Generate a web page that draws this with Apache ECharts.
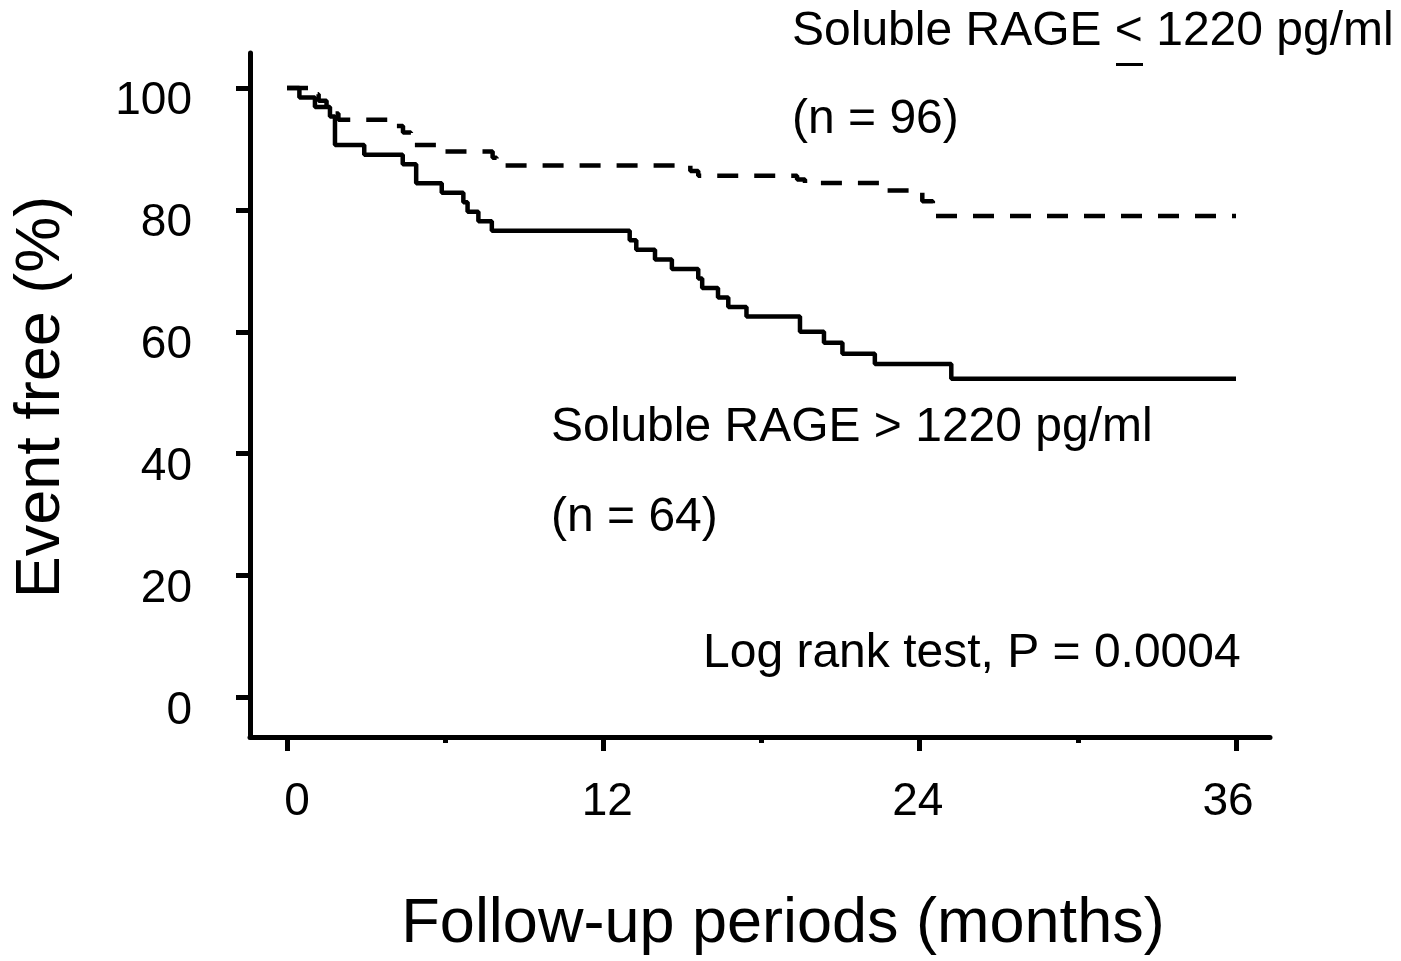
<!DOCTYPE html>
<html><head><meta charset="utf-8">
<script src="https://cdn.jsdelivr.net/npm/echarts@6/dist/echarts.min.js"></script>
<style>html,body{margin:0;padding:0;background:#fff}#c{width:1401px;height:961px}</style>
</head><body><div id="c"></div>
<script>
// Soluble RAGE <= 1220 pg/ml (n = 96) — dashed curve
const lowTime = [0, 0.9, 1.2, 1.5, 1.7, 1.95, 4.15, 4.4, 4.7, 4.85, 5.8, 7.8, 7.95, 15.3, 15.6, 19.35, 19.65, 22.7, 24.1, 24.5, 36];
const lowSurv = [100, 98.96, 97.92, 96.88, 95.83, 94.79, 93.75, 92.71, 91.67, 90.63, 89.58, 88.54, 87.3, 86.4, 85.6, 85.0, 84.4, 83.2, 81.4, 79.0, 79.0];
// Soluble RAGE > 1220 pg/ml (n = 64) — solid curve
const highTime = [0, 0.47, 1.06, 1.63, 1.82, 2.93, 4.39, 4.9, 5.87, 6.69, 6.85, 7.26, 7.77, 13.0, 13.25, 13.96, 14.6, 15.6, 15.75, 16.35, 16.74, 17.43, 19.46, 20.37, 21.07, 22.3, 25.2, 36];
const highSurv = [100, 98.44, 96.88, 95.31, 90.63, 89.06, 87.5, 84.38, 82.81, 81.25, 79.69, 78.13, 76.56, 75.0, 73.44, 71.88, 70.31, 68.75, 67.19, 65.63, 64.06, 62.5, 60.0, 58.2, 56.4, 54.7, 52.3, 52.3];
const yTickValues = [0, 20, 40, 60, 80, 100];
const xMajorTicks = [0, 12, 24, 36];
const xMinorTicks = [6, 18, 30];
const xTickLabels = [0, 12, 24, 36];

const FONT = '"Liberation Sans", Arial, Helvetica, sans-serif';
const BLACK = '#000';
const zip = (a, b) => a.map((v, i) => [v, b[i]]);

const chart = echarts.init(document.getElementById('c'), null, {renderer: 'canvas'});
const xMin = -1.4036, xMax = 37.29;
const txt = (text, x, y, size, extra) => Object.assign({
  type: 'text', x: x, y: y, silent: true,
  style: {text: text, fill: BLACK, fontSize: size, fontFamily: FONT,
    align: 'left', verticalAlign: 'middle', textAlign: 'left', textVerticalAlign: 'middle'}
}, extra || {});

chart.setOption({
  animation: false,
  backgroundColor: '#fff',
  grid: {left: 250, top: 53, right: 131, bottom: 224, containLabel: false},
  xAxis: [
    {type: 'value', position: 'bottom', min: xMin, max: xMax,
      axisLine: {show: true, onZero: false, lineStyle: {color: BLACK, width: 5}},
      axisTick: {show: true, length: 14, customValues: xMajorTicks, lineStyle: {color: BLACK, width: 5}},
      axisLabel: {show: false}, splitLine: {show: false}},
    {type: 'value', position: 'bottom', min: xMin, max: xMax,
      axisLine: {show: false, onZero: false},
      axisTick: {show: true, length: 6, customValues: xMinorTicks, lineStyle: {color: BLACK, width: 5}},
      axisLabel: {show: false}, splitLine: {show: false}},
    {type: 'value', position: 'bottom', min: -1.817, max: 37.62,
      axisLine: {show: false, onZero: false}, axisTick: {show: false},
      axisLabel: {show: true, customValues: xTickLabels, margin: 42, fontSize: 46, color: BLACK, fontFamily: FONT},
      splitLine: {show: false}}
  ],
  yAxis: {type: 'value', min: -6.48, max: 105.74,
    axisLine: {show: true, onZero: false, lineStyle: {color: BLACK, width: 5}},
    axisTick: {show: true, length: 14, customValues: yTickValues, lineStyle: {color: BLACK, width: 5}},
    axisLabel: {show: true, customValues: yTickValues, margin: 58, fontSize: 46, color: BLACK, fontFamily: FONT,
      verticalAlign: 'top', lineHeight: 27},
    splitLine: {show: false}},
  series: [
    {name: 'Soluble RAGE ≤ 1220 pg/ml', type: 'line', step: 'end', xAxisIndex: 0, yAxisIndex: 0,
      data: zip(lowTime, lowSurv), symbol: 'none',
      lineStyle: {color: BLACK, width: 4.5, type: [21, 16], cap: 'butt'}},
    {name: 'Soluble RAGE > 1220 pg/ml', type: 'line', step: 'end', xAxisIndex: 0, yAxisIndex: 0,
      data: zip(highTime, highSurv), symbol: 'none',
      lineStyle: {color: BLACK, width: 4.5, type: 'solid'}}
  ],
  graphic: [
    txt('Soluble RAGE < 1220 pg/ml', 792, 32, 48),
    {type: 'rect', silent: true, shape: {x: 1116, y: 63, width: 27, height: 3}, style: {fill: BLACK}},
    txt('(n = 96)', 792, 120, 48),
    txt('Soluble RAGE > 1220 pg/ml', 551, 428, 48),
    txt('(n = 64)', 551, 518, 48),
    txt('Log rank test, P = 0.0004', 703, 654, 48),
    txt('Follow-up periods (months)', 783, 925, 63, {style: {text: 'Follow-up periods (months)', fill: BLACK, fontSize: 63, fontFamily: FONT, align: 'center', verticalAlign: 'middle', textAlign: 'center', textVerticalAlign: 'middle'}}),
    txt('Event free (%)', 42, 397, 63, {rotation: Math.PI / 2, style: {text: 'Event free (%)', fill: BLACK, fontSize: 63, fontFamily: FONT, align: 'center', verticalAlign: 'middle', textAlign: 'center', textVerticalAlign: 'middle'}})
  ]
});
</script></body></html>
